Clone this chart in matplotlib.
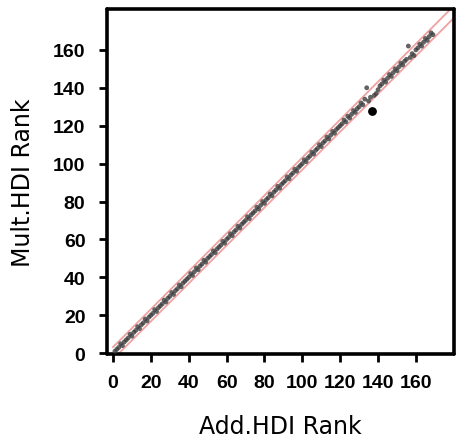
import matplotlib
matplotlib.use("Agg")
import matplotlib.pyplot as plt

# -----------------------------
# Data: additive vs multiplicative HDI rank
# -----------------------------
add_rank = [
    1, 2, 3, 4, 5, 6, 7, 8, 9, 10,
    11, 12, 13, 14, 15, 16, 17, 18, 19, 20,
    21, 22, 23, 24, 25, 26, 27, 28, 29, 30,
    31, 32, 33, 34, 35, 36, 37, 38, 39, 40,
    41, 42, 43, 44, 45, 46, 47, 48, 49, 50,
    51, 52, 53, 54, 55, 56, 57, 58, 59, 60,
    61, 62, 63, 64, 65, 66, 67, 68, 69, 70,
    71, 72, 73, 74, 75, 76, 77, 78, 79, 80,
    81, 82, 83, 84, 85, 86, 87, 88, 89, 90,
    91, 92, 93, 94, 95, 96, 97, 98, 99, 100,
    101, 102, 103, 104, 105, 106, 107, 108, 109, 110,
    111, 112, 113, 114, 115, 116, 117, 118, 119, 120,
    121, 122, 123, 124, 125, 126, 127, 128, 129, 130,
    131, 132, 133, 134, 135, 136, 138, 139, 140,
    141, 142, 143, 144, 145, 146, 147, 148, 149, 150,
    151, 152, 153, 154, 155, 156, 157, 158, 159, 160,
    161, 162, 163, 164, 165, 166, 167, 168, 169,
]
mult_rank = [
    1, 2, 3, 5, 4, 6, 7, 8, 10, 9,
    11, 12, 14, 13, 15, 16, 18, 17, 19, 20,
    21, 23, 22, 24, 25, 26, 28, 27, 29, 30,
    32, 31, 33, 34, 36, 35, 37, 38, 39, 40,
    42, 41, 43, 45, 44, 46, 47, 49, 48, 50,
    51, 52, 54, 53, 55, 56, 57, 59, 58, 60,
    61, 63, 62, 64, 65, 67, 66, 68, 69, 70,
    72, 71, 73, 74, 75, 77, 76, 78, 80, 79,
    81, 82, 84, 83, 85, 86, 88, 87, 89, 90,
    91, 93, 92, 94, 95, 97, 96, 98, 99, 100,
    102, 101, 103, 104, 106, 105, 107, 108, 110, 109,
    111, 112, 114, 113, 115, 117, 116, 118, 119, 120,
    121, 123, 122, 125, 124, 126, 128, 127, 129, 130,
    132, 131, 134, 140, 133, 135, 136, 137, 139,
    141, 142, 144, 143, 145, 147, 146, 148, 150, 149,
    151, 153, 152, 154, 155, 162, 156, 158, 157, 160,
    161, 163, 162, 164, 166, 165, 167, 169, 168,
]
# the one country well off the diagonal
outlier_add = [137]
outlier_mult = [128]

# band lines around the diagonal
band_x = [0, 182]
band_offset = 3.2

# -----------------------------
# Plot
# -----------------------------
fig = plt.figure(figsize=(4.57, 4.39), dpi=100)
ax = fig.add_axes([0.234, 0.191, 0.759, 0.786])

ax.plot(band_x, [v + band_offset for v in band_x], color="#f0a0a0", lw=1.3, zorder=2)
ax.plot(band_x, [v - band_offset for v in band_x], color="#f0a0a0", lw=1.3, zorder=2)

ax.scatter(add_rank, mult_rank, s=12, color="#3c3c3c", alpha=0.8,
           edgecolors="none", zorder=3)
ax.scatter(outlier_add, outlier_mult, s=28, color="black", zorder=4)

ax.set_xlim(-3.2, 180)
ax.set_ylim(-0.5, 181.5)
ax.set_xticks(range(0, 161, 20))
ax.set_yticks(range(0, 161, 20))

for side in ["top", "right", "bottom", "left"]:
    ax.spines[side].set_linewidth(2.6)
    ax.spines[side].set_capstyle("round")
    ax.spines[side].set_joinstyle("round")

ax.tick_params(direction="out", length=5.5, width=2, color="black")
ax.tick_params(axis="x", pad=9)
ax.tick_params(axis="y", pad=10)
for lab in ax.get_xticklabels() + ax.get_yticklabels():
    lab.set_fontfamily("Liberation Sans")
    lab.set_fontweight("bold")
    lab.set_fontsize(14)

ax.set_xlabel("Add.HDI Rank", fontsize=17, family="DejaVu Sans", labelpad=16)
ax.set_ylabel("Mult.HDI Rank", fontsize=17, family="DejaVu Sans", labelpad=13)

fig.savefig("out.png", dpi=100)
